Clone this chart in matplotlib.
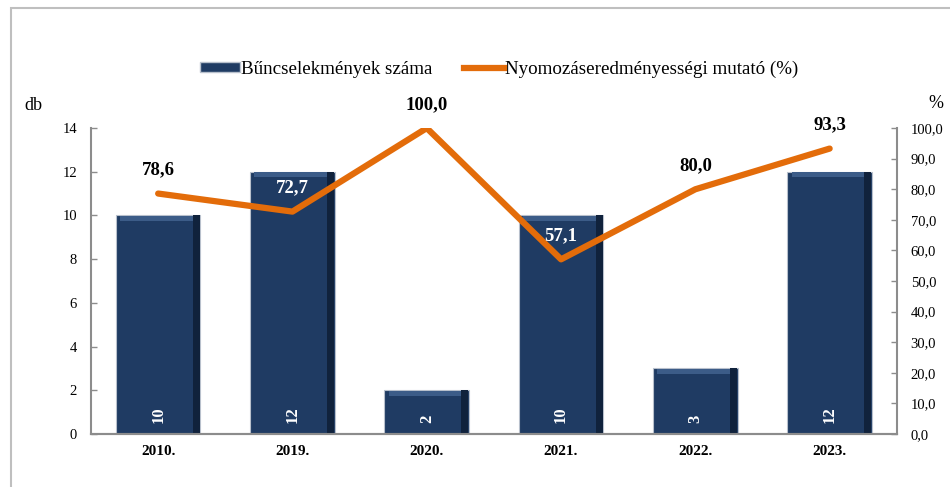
import matplotlib.pyplot as plt
from matplotlib.patches import Patch, Rectangle
from matplotlib.lines import Line2D

plt.rcParams['font.family'] = ['Liberation Serif', 'DejaVu Serif']

# Data
years = ["2010.", "2019.", "2020.", "2021.", "2022.", "2023."]
crimes = [10, 12, 2, 10, 3, 12]
rate = [78.6, 72.7, 100.0, 57.1, 80.0, 93.3]
rate_labels = ["78,6", "72,7", "100,0", "57,1", "80,0", "93,3"]
rate_label_colors = ["black", "white", "black", "white", "black", "black"]

bar_color = "#1F3B63"
line_color = "#E36C0A"
axis_color = "#8C8C8C"

fig = plt.figure(figsize=(9.5, 4.87), dpi=100)
ax = fig.add_axes([0.0958, 0.1088, 0.8482, 0.6282])
ax2 = ax.twinx()

x = list(range(len(years)))
w = 0.63

# bars with a simple bevel look
ax.bar(x, crimes, width=w, color=bar_color, edgecolor="#B8C0CC", linewidth=0.8, zorder=2)
ax.bar(x, [0.22] * len(x), bottom=[c - 0.25 for c in crimes], width=w * 0.9,
       color="#3C5C88", linewidth=0, zorder=3)
ax.bar([i + w * 0.45 for i in x], crimes, width=w * 0.08, color="#10223C", linewidth=0, zorder=3)

for i, c in enumerate(crimes):
    ax.text(i, 0.5, str(c), rotation=90, ha="center", va="bottom", color="white",
            fontsize=12, fontweight="bold", zorder=5)

ax.set_xlim(-0.5, len(years) - 0.5)
ax.set_ylim(0, 14)
ax.set_yticks(range(0, 15, 2))
ax.set_xticks(x)
ax.set_xticklabels(years, fontweight="bold", fontsize=11)

# line
ax2.plot(x, rate, color=line_color, linewidth=4.5, solid_capstyle="round", zorder=4)
ax2.set_ylim(0, 100)
ax2.set_yticks(range(0, 101, 10))
ax2.set_yticklabels([f"{v},0" for v in range(0, 101, 10)])

for i, (r, lab, col) in enumerate(zip(rate, rate_labels, rate_label_colors)):
    ax2.annotate(lab, (i, r), xytext=(0, 17), textcoords="offset points", ha="center",
                 va="center", fontsize=13.5, fontweight="bold", color=col, zorder=6)

ax.set_zorder(ax2.get_zorder() - 1)
ax.patch.set_visible(False)
ax2.patch.set_visible(False)

for a in (ax, ax2):
    a.spines["top"].set_visible(False)
    for s in ("left", "right", "bottom"):
        a.spines[s].set_color(axis_color)
        a.spines[s].set_linewidth(1.5)
    a.tick_params(axis="y", direction="in", length=4, width=1, color=axis_color,
                  labelsize=10.5, pad=10)
ax.tick_params(axis="x", length=0, pad=8)
ax.spines["right"].set_visible(False)
ax2.spines["left"].set_visible(False)

fig.text(33 / 950, 1 - 105 / 487, "db", fontsize=13, ha="center", va="center")
fig.text(936 / 950, 1 - 103 / 487, "%", fontsize=13, ha="center", va="center")

handles = [Patch(facecolor=bar_color, edgecolor="#B8C0CC"),
           Line2D([0], [0], color=line_color, linewidth=4.5)]
fig.legend(handles, ["Bűncselekmények száma", "Nyomozáseredményességi mutató (%)"],
           loc="center", bbox_to_anchor=(499 / 950, 1 - 69 / 487), ncol=2, frameon=False,
           fontsize=13.7, handlelength=2.1, handleheight=0.45, handletextpad=0.05,
           columnspacing=1.7)

# outer chart border
fig.patches.append(Rectangle((11 / 950, -0.1), 1.2, 1 - 8 / 487 + 0.1, transform=fig.transFigure,
                             fill=False, edgecolor="#BFBFBF", linewidth=1.5))

fig.savefig("out.png", dpi=100)
